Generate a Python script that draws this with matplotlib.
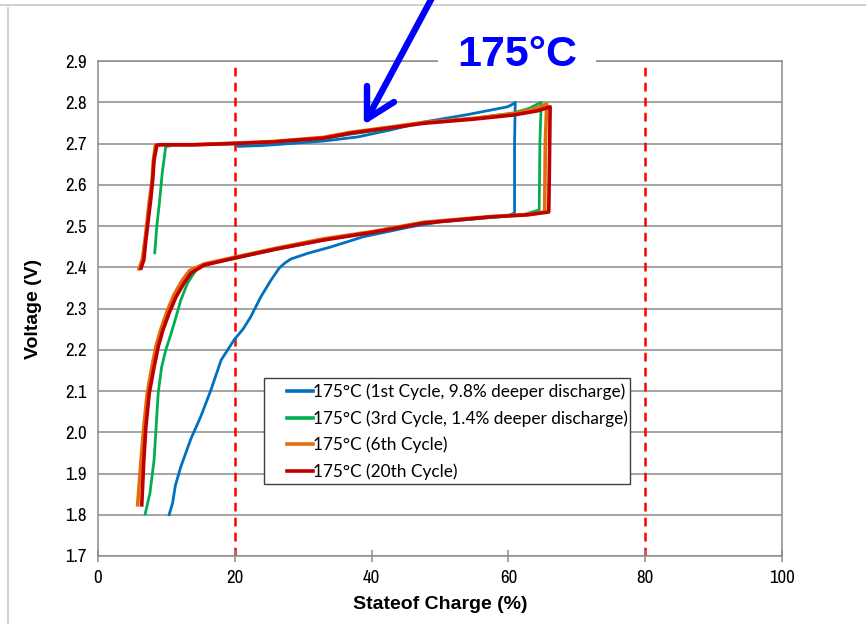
import matplotlib
matplotlib.use("Agg")
import matplotlib.pyplot as plt
from matplotlib.lines import Line2D
from matplotlib.patches import Rectangle
from matplotlib import font_manager

# ---- data (State of charge %, Voltage V) ----
blue_soc = [20.5, 24, 28.2, 33, 38, 42.8, 47.6, 54, 59.9, 60.7, 61.0, 60.9, 60.9, 59.9, 55, 50, 45.7, 38.8, 34,
            30.7, 28.2, 27.3, 26.5, 25.3, 23.8, 22.3, 21.2, 19.9, 18, 16.5, 15.0, 13.6, 12.1, 11.3, 10.9, 10.4]
blue_v = [2.693, 2.695, 2.700, 2.706, 2.716, 2.733, 2.752, 2.770, 2.789, 2.796, 2.800, 2.70, 2.532, 2.524, 2.517,
          2.510, 2.498, 2.474, 2.449, 2.434, 2.420, 2.410, 2.398, 2.369, 2.328, 2.279, 2.250, 2.224, 2.175, 2.102,
          2.037, 1.985, 1.916, 1.870, 1.828, 1.800]

green_soc = [8.3, 8.6, 9.0, 9.4, 9.9, 11, 14, 20, 25, 33, 37, 42.8, 47.6, 54.9, 60.7, 63, 64.8, 64.6, 64.5, 62,
             57.4, 47.6, 40.3, 33, 26, 19.9, 16.5, 14.6, 13.1, 12.1, 11.4, 10.7, 9.9, 9.3, 8.8, 8.5, 8.2, 7.6, 6.9]
green_v = [2.435, 2.500, 2.560, 2.630, 2.692, 2.696, 2.697, 2.699, 2.702, 2.712, 2.723, 2.737, 2.750, 2.761, 2.774,
           2.785, 2.800, 2.700, 2.539, 2.526, 2.522, 2.509, 2.485, 2.466, 2.443, 2.421, 2.410, 2.400, 2.362, 2.320,
           2.279, 2.240, 2.199, 2.158, 2.095, 2.013, 1.933, 1.853, 1.802]

orange_soc = [6.0, 6.5, 6.9, 7.5, 7.9, 8.1, 8.4, 9.2, 14, 20, 25.7, 33, 36.9, 42.8, 47.6, 54.9, 60.7, 64, 65.6,
              65.4, 65.3, 62.8, 57.4, 47.6, 40.3, 33, 26, 19.9, 15.5, 13.4, 12.3, 11.1, 10.1, 9.2, 8.5, 7.9, 7.2,
              6.7, 6.3, 5.8]
orange_v = [2.396, 2.420, 2.470, 2.560, 2.610, 2.660, 2.696, 2.697, 2.697, 2.701, 2.705, 2.715, 2.727, 2.740,
            2.751, 2.761, 2.772, 2.785, 2.796, 2.700, 2.534, 2.528, 2.523, 2.509, 2.487, 2.469, 2.446, 2.424, 2.408,
            2.392, 2.368, 2.333, 2.293, 2.250, 2.210, 2.160, 2.095, 2.013, 1.933, 1.824]

red_soc = [6.3, 6.7, 7.0, 7.7, 8.0, 8.2, 8.6, 9.2, 14, 20, 25.7, 33, 36.9, 42.8, 47.6, 54.9, 60.7, 64.2, 66.1,
           66.0, 65.9, 62.8, 57.4, 47.6, 40.3, 33, 26, 19.9, 15.5, 13.6, 12.6, 11.4, 10.4, 9.5, 8.8, 8.2, 7.5,
           7.0, 6.7, 6.4]
red_v = [2.398, 2.418, 2.466, 2.563, 2.612, 2.660, 2.696, 2.697, 2.697, 2.700, 2.704, 2.713, 2.725, 2.738, 2.749,
         2.759, 2.769, 2.779, 2.789, 2.650, 2.534, 2.527, 2.522, 2.507, 2.485, 2.466, 2.444, 2.422, 2.405, 2.386,
         2.362, 2.328, 2.289, 2.248, 2.207, 2.158, 2.095, 2.013, 1.933, 1.824]

labels = ["175°C (1st Cycle, 9.8% deeper discharge)",
          "175°C (3rd Cycle, 1.4% deeper discharge)",
          "175°C (6th Cycle)",
          "175°C (20th Cycle)"]
colors = ["#0070C0", "#00B050", "#E46C0A", "#C00000"]
widths = [2.0, 2.0, 2.6, 2.6]

limit_soc = [20, 80]
x_ticks = [0, 20, 40, 60, 80, 100]
y_ticks = [1.7, 1.8, 1.9, 2.0, 2.1, 2.2, 2.3, 2.4, 2.5, 2.6, 2.7, 2.8, 2.9]


def is_narrow(f):
    return "Narrow" in f.name or "Condensed" in f.name


def wt(f):
    try:
        return int(f.weight)
    except (TypeError, ValueError):
        return {"normal": 400, "regular": 400, "bold": 700}.get(str(f.weight), 400)


fonts = font_manager.fontManager.ttflist
reg = [f for f in fonts if is_narrow(f) and wt(f) == 400 and f.style == "normal"]
tick_font = font_manager.FontProperties(fname=reg[0].fname) if reg else \
    font_manager.FontProperties(family=["Liberation Sans", "DejaVu Sans"])
label_font = font_manager.FontProperties(family=["Liberation Sans", "DejaVu Sans"], weight="bold")
label_size = 14

W, H = 866, 624
fig = plt.figure(figsize=(W / 100, H / 100), dpi=100)
ax = fig.add_axes([98 / W, 1 - 556 / H, (782 - 98) / W, (556 - 61) / H])

grid_c = "#8c8c8c"

for y in y_ticks:
    ax.axhline(y, color=grid_c, lw=1.1, zorder=0)
for xv in limit_soc:
    ax.axvline(xv, color="#FF0000", lw=1.8, ls=(0, (3.5, 2.5)), zorder=1)

series = [(blue_soc, blue_v), (green_soc, green_v), (orange_soc, orange_v), (red_soc, red_v)]
for (s, v), c, lw, lab in zip(series, colors, widths, labels):
    ax.plot(s, v, color=c, lw=lw, label=lab, solid_joinstyle="round", zorder=3)

ax.set_xlim(0, 100)
ax.set_ylim(1.7, 2.9)
ax.set_xticks(x_ticks)
ax.set_yticks(y_ticks)
ax.set_yticklabels([f"{t:.1f}" for t in y_ticks])
for sp in ax.spines.values():
    sp.set_color(grid_c)
    sp.set_linewidth(1.1)
ax.tick_params(axis="x", direction="inout", length=8, color=grid_c, width=1.1, pad=6)
ax.tick_params(axis="y", length=0, pad=8)
for lbl in ax.get_xticklabels() + ax.get_yticklabels():
    lbl.set_fontproperties(tick_font)
    lbl.set_fontsize(13.5)

xl = ax.set_xlabel("Stateof Charge (%)", labelpad=7)
yl = ax.set_ylabel("Voltage (V)", labelpad=17)
for t in (xl, yl):
    t.set_fontproperties(label_font)
    t.set_fontsize(label_size)

# legend: frame drawn separately so the handles can be indented like the original
ax.add_patch(Rectangle((264 / W, 1 - 484 / H), (630 - 264) / W, (484 - 378) / H, transform=fig.transFigure,
                       facecolor="white", edgecolor="#404040", lw=1.0, zorder=4, clip_on=False))
leg = ax.legend(loc="upper left", bbox_to_anchor=((284 - 98) / 684, (556 - 380) / 495),
                borderaxespad=0, frameon=False, handlelength=1.47, handletextpad=0.0,
                borderpad=0.2, labelspacing=0.58, prop={"family": ["Lato", "DejaVu Sans"], "size": 12.4})
leg.set_zorder(6)
for h in leg.get_lines():
    h.set_linewidth(2.6)

# title with white box covering the top gridline
fig.text(517 / W, 1 - 55 / H, "175°C", ha="center", va="center", color="#0000FF",
         fontsize=31, fontweight="bold", family=["Liberation Sans", "DejaVu Sans"],
         bbox=dict(facecolor="white", edgecolor="none", pad=14))

# arrow
def fp(x, y):
    return x / W, 1 - y / H

tip = (367, 119)
for start in [(433, -4), (367, 86), (394, 102)]:
    x0, y0 = fp(*start)
    x1, y1 = fp(*tip)
    fig.add_artist(Line2D([x0, x1], [y0, y1], transform=fig.transFigure, color="#0000FF",
                          lw=4.6, solid_capstyle="round", zorder=10))

# slide frame lines
fig.add_artist(Line2D([0, 1], [1 - 5 / H, 1 - 5 / H], transform=fig.transFigure, color="#c8c8c8", lw=1.2))
fig.add_artist(Line2D([8 / W, 8 / W], [0, 1 - 8 / H], transform=fig.transFigure, color="#c8c8c8", lw=1.2))

fig.savefig("out.png", dpi=100)
